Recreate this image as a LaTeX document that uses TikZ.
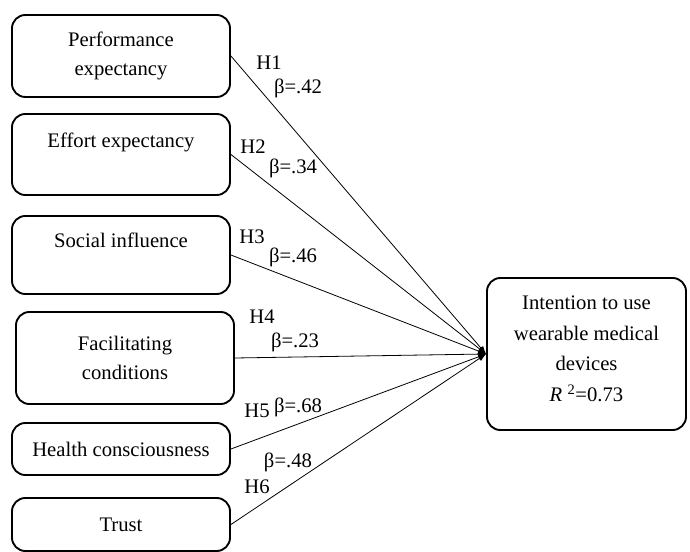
\documentclass[tikz,border=0pt]{standalone}
\usepackage{fontspec}
\setmainfont{Liberation Serif}
\usetikzlibrary{arrows.meta}
\tikzset{
  every picture/.style={font=\fontsize{15.5}{22}\selectfont, line join=round, line cap=round, >=Stealth},
  factor/.style={draw, line width=1.4pt, rounded corners=10pt, align=center, inner sep=0pt, minimum width=218*0.75pt},
  hyp/.style={line width=0.6pt, -{Latex[length=6pt,width=4.5pt]}},
  coef/.style={inner sep=0pt},
}

\begin{document}
\begin{tikzpicture}[x=0.75pt,y=-0.75pt]
\useasboundingbox (0,0) rectangle (690,552);
% predictors
\node[factor, minimum height=82*0.75pt] (pe) at (121,56) {Performance\\expectancy};
\node[factor, minimum height=81*0.75pt] (ee) at (121,154.5) {Effort expectancy\\\mbox{}};
\node[factor, minimum height=78*0.75pt] (si) at (121,255) {Social influence\\\mbox{}};
\node[factor, minimum height=92*0.75pt] (fc) at (125,358) {Facilitating\\conditions};
\node[factor, minimum height=52*0.75pt] (hc) at (121,449) {Health consciousness};
\node[factor, minimum height=53*0.75pt] (tr) at (121,524.5) {Trust};
% outcome
\node[factor, font=\fontsize{15.5}{23}\selectfont, text depth=8pt, minimum width=199*0.75pt, minimum height=152*0.75pt] (iu) at (586.5,354)
  {Intention to use\\wearable medical\\devices\\\textit{R} \textsuperscript{2}=0.73};
% paths
\draw[hyp] (pe.east) -- (iu.west);
\draw[hyp] (ee.east) -- (iu.west);
\draw[hyp] (si.east) -- (iu.west);
\draw[hyp] (fc.east) -- (iu.west);
\draw[hyp] (hc.east) -- (iu.west);
\draw[hyp] (tr.east) -- (iu.west);
% labels
\node[coef] (h1) at (269,63) {H1};
\node[coef] (b1) at (298,88) {β=.42};
\node[coef] (h2) at (253,147) {H2};
\node[coef] (b2) at (293,168) {β=.34};
\node[coef] (h3) at (252,237) {H3};
\node[coef] (b3) at (293,257) {β=.46};
\node[coef] (h4) at (262,317) {H4};
\node[coef] (b4) at (295,342) {β=.23};
\node[coef] (h5) at (257,411) {H5};
\node[coef] (b5) at (298,407) {β=.68};
\node[coef] (b6) at (288,462) {β=.48};
\node[coef] (h6) at (257,487) {H6};
\end{tikzpicture}
\end{document}
